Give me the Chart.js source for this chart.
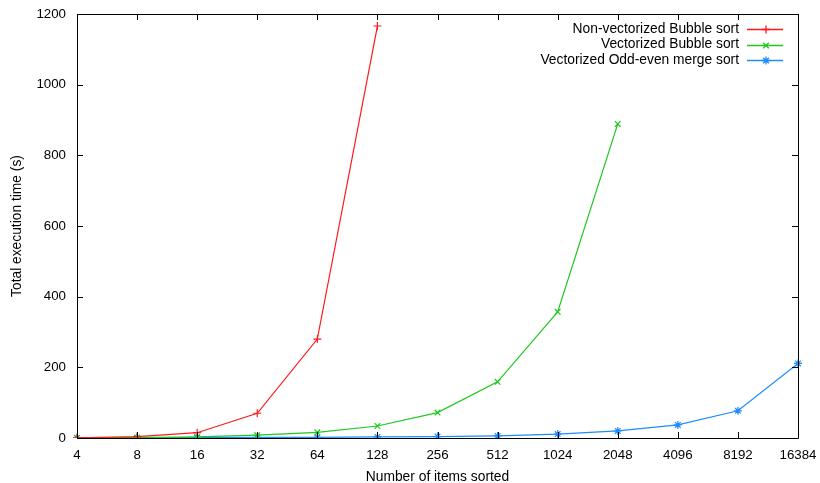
<!DOCTYPE html>
<html>
<head>
<meta charset="UTF-8">
<script src="https://cdn.jsdelivr.net/npm/chart.js"></script>
<style>
    body { margin: 0; padding: 0; background: #fff; }
    .wrap { position: relative; width: 820px; height: 483px; }
</style>
</head>
<body>
<div class="wrap"><canvas id="chart"></canvas></div>
<script>
// data
const sizes = ['4', '8', '16', '32', '64', '128', '256', '512', '1024', '2048', '4096', '8192', '16384'];
const bubbleScalar = [0.5, 4, 15, 70, 280, 1166, null, null, null, null, null, null, null];
const bubbleVector = [0.3, 1, 3, 8, 16, 34, 72, 159, 357, 889, null, null, null];
const oddEvenMerge = [0.2, 0.4, 0.8, 1.5, 2, 3, 4, 6, 11, 20, 37, 77, 211];
const yTicks = [0, 200, 400, 600, 800, 1000, 1200];

const FONT = 'Liberation Sans, Arial, sans-serif';

const series = [
    { label: 'Non-vectorized Bubble sort', data: bubbleScalar, color: '#ff1a1a', style: 'cross' },
    { label: 'Vectorized Bubble sort', data: bubbleVector, color: '#1ec81e', style: 'crossRot' },
    { label: 'Vectorized Odd-even merge sort', data: oddEvenMerge, color: '#1e8cff', style: 'star' }
];

// gnuplot-ish frame, inward ticks and key
const framePlugin = {
    id: 'frame',
    afterDatasetsDraw(chart) {
        const { ctx, chartArea: a, scales } = chart;
        ctx.save();
        ctx.strokeStyle = '#000';
        ctx.lineWidth = 1;
        ctx.beginPath();
        ctx.rect(Math.round(a.left) + 0.5, Math.round(a.top) + 0.5, Math.round(a.right - a.left), Math.round(a.bottom - a.top));
        ctx.stroke();
        ctx.beginPath();
        scales.x.ticks.forEach((t, i) => {
            const x = Math.round(scales.x.getPixelForTick(i)) + 0.5;
            ctx.moveTo(x, a.bottom); ctx.lineTo(x, a.bottom - 6);
            ctx.moveTo(x, a.top); ctx.lineTo(x, a.top + 6);
        });
        scales.y.ticks.forEach((t, i) => {
            const y = Math.round(scales.y.getPixelForTick(i)) + 0.5;
            ctx.moveTo(a.left, y); ctx.lineTo(a.left + 6, y);
            ctx.moveTo(a.right, y); ctx.lineTo(a.right - 6, y);
        });
        ctx.stroke();

        // key
        ctx.font = '13.8px ' + FONT;
        ctx.textAlign = 'right';
        ctx.textBaseline = 'middle';
        series.forEach((s, i) => {
            const y = a.top + 15 + i * 15.5;
            ctx.fillStyle = '#000';
            ctx.fillText(s.label, a.right - 59, y);
            ctx.strokeStyle = s.color;
            ctx.lineWidth = 1.3;
            ctx.beginPath();
            ctx.moveTo(a.right - 51, Math.round(y) + 0.5);
            ctx.lineTo(a.right - 15, Math.round(y) + 0.5);
            ctx.stroke();
            Chart.helpers.drawPoint(ctx, { pointStyle: s.style, radius: 4, borderWidth: 1.3 }, a.right - 32, Math.round(y) + 0.5);
        });
        ctx.restore();
    }
};

new Chart(document.getElementById('chart'), {
    type: 'line',
    data: {
        labels: sizes,
        datasets: series.map(s => ({
            label: s.label,
            data: s.data,
            borderColor: s.color,
            backgroundColor: s.color,
            borderWidth: 1.2,
            pointStyle: s.style,
            pointRadius: 4,
            pointBorderWidth: 1.2,
            pointBorderColor: s.color,
            tension: 0,
            fill: false
        }))
    },
    options: {
        responsive: true,
        maintainAspectRatio: false,
        animation: false,
        layout: { padding: { top: 14, right: 22, left: 0, bottom: 0 } },
        plugins: {
            legend: { display: false },
            tooltip: { enabled: false }
        },
        scales: {
            x: {
                type: 'category',
                offset: false,
                grid: { display: false, drawTicks: false },
                border: { display: false },
                ticks: { color: '#000', font: { family: FONT, size: 13.3 }, padding: 9, maxRotation: 0, autoSkip: false },
                title: { display: true, text: 'Number of items sorted', color: '#000', font: { family: FONT, size: 13.8, lineHeight: 1 }, padding: { top: 6, bottom: -1 } },
                afterFit(s) { s.height = 45; s.paddingLeft = 0; s.paddingRight = 0; }
            },
            y: {
                min: 0,
                max: 1200,
                grid: { display: false, drawTicks: false },
                border: { display: false },
                afterBuildTicks(s) { s.ticks = yTicks.map(v => ({ value: v })); },
                ticks: { color: '#000', font: { family: FONT, size: 13.3 }, padding: 11, callback: v => String(v) },
                title: { display: true, text: 'Total execution time (s)', color: '#000', font: { family: FONT, size: 13.8, lineHeight: 1 }, padding: { top: 10, bottom: 0 } },
                afterFit(s) { s.width = 77; s.paddingTop = 0; s.paddingBottom = 0; }
            }
        }
    },
    plugins: [framePlugin]
});
</script>
</body>
</html>
